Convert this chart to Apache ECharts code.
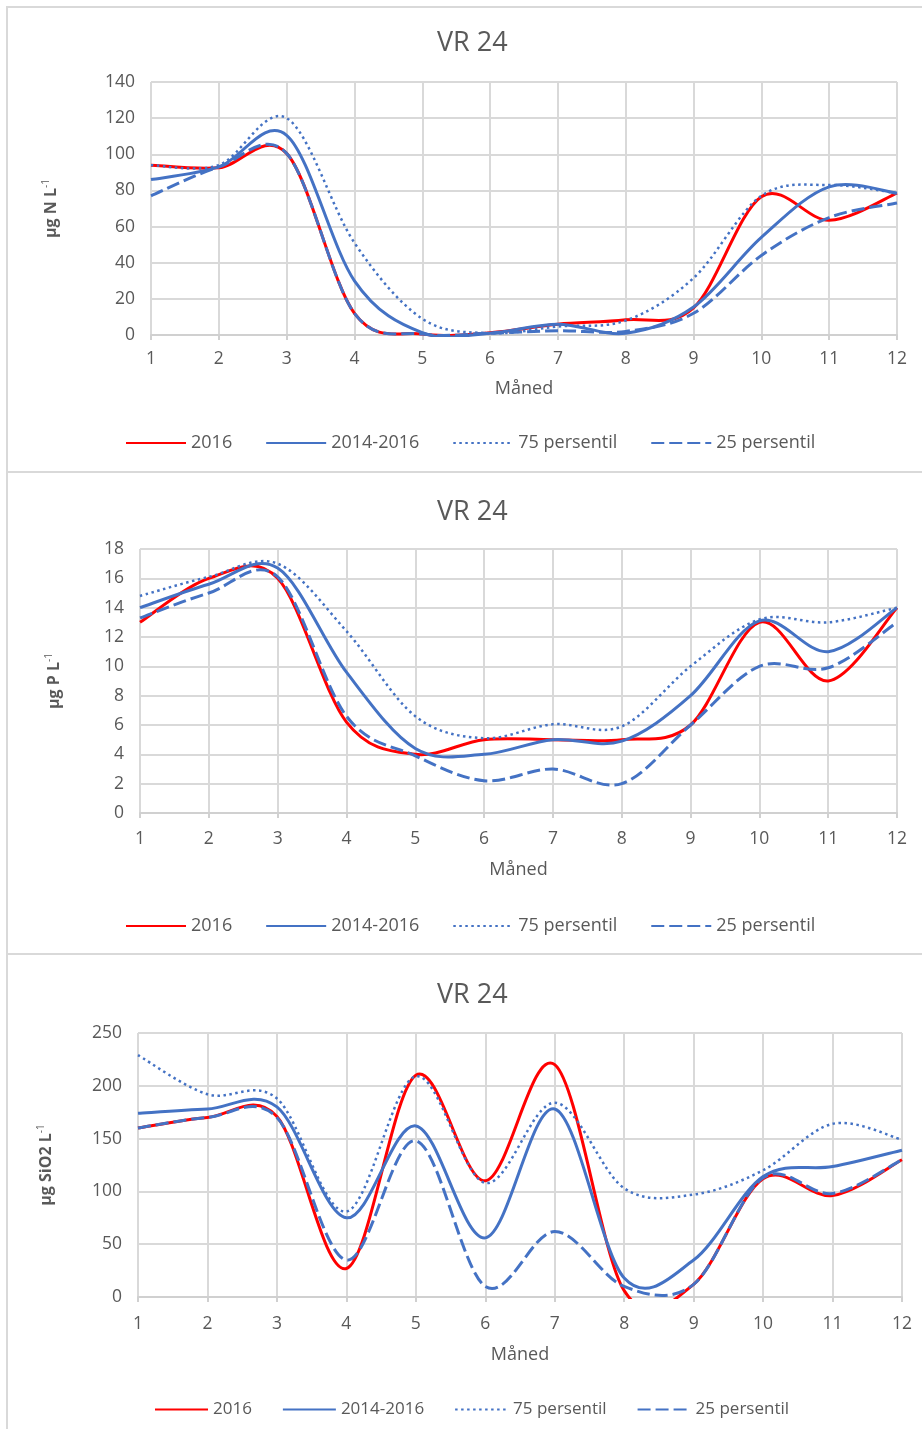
<!DOCTYPE html>
<html>
<head>
<meta charset="utf-8">
<title>VR 24</title>
<script src="https://cdn.jsdelivr.net/npm/echarts@6/dist/echarts.min.js"></script>
<style>
  html, body { margin: 0; padding: 0; background: #fff; width: 922px; height: 1429px; overflow: hidden; }
  .frame { position: absolute; left: 6px; width: 940px; border: 2px solid #d9d9d9; box-sizing: border-box; }
  .chart { position: absolute; left: 0; width: 922px; }
</style>
</head>
<body>
<div class="frame" style="top:6px;height:467px"></div>
<div class="frame" style="top:471px;height:484px"></div>
<div class="frame" style="top:953px;height:500px"></div>
<div id="chartN" class="chart" style="top:0;height:471px"></div>
<div id="chartP" class="chart" style="top:471px;height:484px"></div>
<div id="chartSi" class="chart" style="top:955px;height:474px"></div>
<script>
// Months on the x axis
const months = [1, 2, 3, 4, 5, 6, 7, 8, 9, 10, 11, 12];
const seriesNames = ['2016', '2014-2016', '75 persentil', '25 persentil'];

// Total nitrogen, µg N/L
const n2016 = [94, 92.5, 100.5, 12, 0.5, 1.3, 6, 8.4, 15, 76.5, 63.5, 78.5];
const nMean = [86, 93, 110.5, 30, 1.3, 1, 6, 1, 15.5, 54, 82, 78.5];
const nP75  = [94, 94, 120, 51, 9, 1, 4.7, 8, 31.5, 77, 83, 78.5];
const nP25  = [77, 93, 100.5, 12, 0.5, 1, 2.4, 2, 12, 44, 65, 73];

// Total phosphorus, µg P/L
const p2016 = [13, 16, 16.0, 6.2, 4, 5, 5, 5, 6, 13, 9, 14];
const pMean = [14, 15.6, 16.7, 9.6, 4.4, 4, 5, 4.9, 8, 13.1, 11, 14];
const pP75  = [14.8, 16.1, 17.0, 12.4, 6.6, 5.1, 6.05, 5.9, 10, 13.2, 13, 14];
const pP25  = [13.3, 15, 16.1, 6.6, 3.9, 2.2, 3, 2, 6, 10, 9.9, 13];

// Silicate, µg SiO2/L
const si2016 = [160, 170, 171, 27, 210, 110, 220, 6, 12, 112, 96, 130];
const siMean = [174, 178, 180, 75, 162, 56, 178, 18, 35, 114, 123.5, 139];
const siP75  = [229, 192, 188, 81, 209, 108, 184, 103, 97, 120, 164, 149];
const siP25  = [160, 170, 170, 35, 148, 10, 62, 10, 12, 113, 98, 130];

// Value-axis ranges
const nAxis  = { max: 140, interval: 20 };
const pAxis  = { max: 18, interval: 2 };
const siAxis = { max: 250, interval: 50 };

const FONT = '"Open Sans", "Noto Sans", "DejaVu Sans", sans-serif';
const GREY = '#595959';
const RED = '#ff0000';
const BLUE = '#4472c4';

const lineStyles = [
  { color: RED,  width: 3, type: 'solid' },
  { color: BLUE, width: 3, type: 'solid' },
  { color: BLUE, width: 2.5, type: [2.5, 3.5] },
  { color: BLUE, width: 3, type: [13, 5] }
];

function pairs(values) {
  return months.map((m, i) => [m, values[i]]);
}

// Cubic Bezier path through pixel points (Catmull-Rom tangents, spreadsheet-style smoothing)
function bezierThrough(pts) {
  let d = 'M' + pts[0][0] + ' ' + pts[0][1];
  for (let i = 0; i < pts.length - 1; i++) {
    const p0 = pts[i - 1] || pts[i];
    const p1 = pts[i];
    const p2 = pts[i + 1];
    const p3 = pts[i + 2] || p2;
    const c1x = p1[0] + (p2[0] - p0[0]) / 6;
    const c1y = p1[1] + (p2[1] - p0[1]) / 6;
    const c2x = p2[0] - (p3[0] - p1[0]) / 6;
    const c2y = p2[1] - (p3[1] - p1[1]) / 6;
    d += ' C' + c1x + ' ' + c1y + ' ' + c2x + ' ' + c2y + ' ' + p2[0] + ' ' + p2[1];
  }
  return d;
}

function curveSeries(name, values, style) {
  return {
    name: name,
    type: 'custom',
    coordinateSystem: 'cartesian2d',
    data: pairs(values),
    encode: { x: 0, y: 1 },
    renderItem: function (params, api) {
      if (params.dataIndex !== 0) return null;
      const pts = values.map((v, i) => api.coord([months[i], v]));
      const cs = params.coordSys;
      const dash = Array.isArray(style.type) ? style.type : null;
      return {
        type: 'path',
        shape: { pathData: bezierThrough(pts) },
        clipPath: { type: 'rect', shape: { x: cs.x - 4, y: cs.y - 4, width: cs.width + 8, height: cs.height + 6 } },
        style: { fill: 'none', stroke: style.color, lineWidth: style.width, lineDash: dash, lineJoin: 'round' }
      };
    }
  };
}

function buildChart(el, layout, axis, unit, seriesValues) {
  const chart = echarts.init(document.getElementById(el), null, { renderer: 'canvas' });
  // Empty line series carry the legend symbols; the curves are custom series of the same name
  const legendCarriers = seriesNames.map((name, i) => ({
    name: name,
    type: 'line',
    symbol: 'none',
    data: [],
    lineStyle: lineStyles[i],
    itemStyle: { color: lineStyles[i].color }
  }));
  const curves = seriesValues.map((vals, i) => curveSeries(seriesNames[i], vals, lineStyles[i]));
  chart.setOption({
    animation: false,
    textStyle: { fontFamily: FONT },
    title: {
      text: 'VR 24',
      left: layout.titleLeft,
      top: layout.titleTop,
      textStyle: { fontFamily: FONT, fontSize: 27, fontWeight: 'normal', color: GREY }
    },
    grid: layout.grid,
    legend: {
      left: layout.legendLeft,
      top: layout.legendTop,
      itemWidth: layout.legendItemWidth,
      itemHeight: 14,
      itemGap: layout.legendGap,
      itemStyle: { opacity: 0 },
      textStyle: { fontFamily: FONT, fontSize: layout.legendFont, color: GREY },
      data: seriesNames
    },
    xAxis: {
      type: 'value',
      min: 1,
      max: 12,
      interval: 1,
      name: 'Måned',
      nameLocation: 'middle',
      nameGap: layout.xNameGap,
      nameTextStyle: { fontFamily: FONT, fontSize: 18, color: GREY },
      axisLine: { show: true, onZero: false, lineStyle: { color: '#d0d0d0', width: 2 } },
      axisTick: { show: true, length: 5, lineStyle: { color: '#d0d0d0', width: 2 } },
      axisLabel: { fontFamily: FONT, fontSize: 17.5, color: GREY, margin: layout.xLabelMargin },
      splitLine: { show: true, lineStyle: { color: '#d9d9d9', width: 2 } }
    },
    yAxis: {
      type: 'value',
      min: 0,
      max: axis.max,
      interval: axis.interval,
      name: '{u|' + unit + '}{s|-1}',
      nameLocation: 'middle',
      nameGap: layout.yNameGap,
      nameRotate: 90,
      nameTextStyle: {
        fontFamily: FONT,
        color: GREY,
        rich: {
          u: { fontFamily: FONT, fontSize: 16, fontWeight: 'bold', color: GREY, lineHeight: 20, verticalAlign: 'middle' },
          s: { fontFamily: FONT, fontSize: 10, fontWeight: 'normal', color: GREY, lineHeight: 20, verticalAlign: 'top' }
        }
      },
      axisLine: { show: false },
      axisTick: { show: false },
      axisLabel: { fontFamily: FONT, fontSize: 17.5, color: GREY, margin: 16 },
      splitLine: { show: true, lineStyle: { color: '#d9d9d9', width: 2 } }
    },
    series: legendCarriers.concat(curves)
  });
  return chart;
}

buildChart('chartN', {
  grid: { left: 151, top: 82, width: 746, height: 253 },
  titleLeft: 432, titleTop: 25,
  legendLeft: 120, legendTop: 429, legendItemWidth: 60, legendGap: 33, legendFont: 18,
  xLabelMargin: 15, xNameGap: 45, yNameGap: 90
}, nAxis, 'µg N L', [n2016, nMean, nP75, nP25]);

buildChart('chartP', {
  grid: { left: 140, top: 78, width: 757, height: 264 },
  titleLeft: 432, titleTop: 23,
  legendLeft: 120, legendTop: 441, legendItemWidth: 60, legendGap: 33, legendFont: 18,
  xLabelMargin: 17, xNameGap: 48, yNameGap: 76
}, pAxis, 'µg P L', [p2016, pMean, pP75, pP25]);

buildChart('chartSi', {
  grid: { left: 138, top: 78, width: 764, height: 264 },
  titleLeft: 432, titleTop: 22,
  legendLeft: 149, legendTop: 441, legendItemWidth: 53, legendGap: 30, legendFont: 17,
  xLabelMargin: 18, xNameGap: 49, yNameGap: 82
}, siAxis, 'µg SiO2 L', [si2016, siMean, siP75, siP25]);
</script>
</body>
</html>
